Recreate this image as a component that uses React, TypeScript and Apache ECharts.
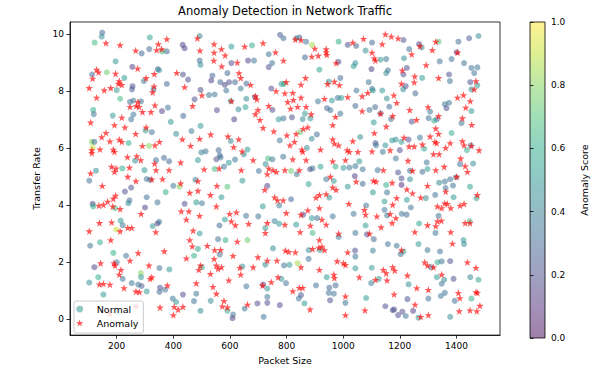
import React, { useEffect, useRef } from "react";
import * as echarts from "echarts";

const chartTitle = "Anomaly Detection in Network Traffic";
const xName = "Packet Size";
const yName = "Transfer Rate";
const cbName = "Anomaly Score";
const xTicks = [200, 400, 600, 800, 1000, 1200, 1400];
const yTicks = [0, 2, 4, 6, 8, 10];
const legendNames = ["Normal", "Anomaly"];
const viridis = ["#440154", "#482475", "#414487", "#355f8d", "#2a788e", "#21918c", "#22a884", "#44bf70", "#7ad151", "#bddf26", "#fde725"];

// [packet size, transfer rate, anomaly score]
const normalPoints: [number, number, number][] = [
  [149,10.05,0.3],[147,9.91,0.45],[122,9.70,0.65],[317,9.88,0.55],[288,9.32,0.3],[315,9.47,0.3],[377,9.39,0.3],[361,9.39,0.65],[196,9.04,0.5],[255,8.85,0.15],[345,8.77,0.3],[350,8.73,0.45],[165,8.66,0.75],[113,8.58,0.3],[227,8.46,0.5],[296,8.35,0.35],[377,8.25,0.3],[254,8.06,0.25],[256,8.17,0.2],[200,8.03,0.5],[330,8.06,0.35],[212,7.73,0.65],[259,7.67,0.35],[247,7.62,0.35],[286,7.64,0.35],[117,7.34,0.6],[119,7.19,0.35],[360,7.30,0.15],[381,7.42,0.35],[186,7.14,0.5],[259,7.18,0.35],[251,7.01,0.35],[391,6.92,0.5],
  [493,9.93,0.45],[433,9.62,0.15],[440,9.50,0.15],[777,9.97,0.25],[789,9.85,0.3],[605,9.56,0.5],[678,9.60,0.6],[737,9.29,0.35],[493,9.07,0.3],[496,8.92,0.45],[605,8.98,0.2],[664,9.07,0.15],[685,9.07,0.35],[749,8.98,0.35],[737,8.84,0.2],[591,8.63,0.3],[434,8.58,0.2],[452,8.40,0.2],[538,8.54,0.3],[534,8.37,0.15],[566,8.31,0.3],[582,8.22,0.15],[597,8.31,0.2],[618,8.31,0.3],[658,8.26,0.3],[782,8.25,0.5],[791,8.25,0.6],[746,8.09,0.2],[496,8.04,0.2],[587,8.02,0.35],[638,8.09,0.35],[526,7.86,0.35],[546,7.88,0.35],[475,7.71,0.2],[603,7.65,0.5],[658,7.73,0.45],[688,7.79,0.3],[554,7.33,0.2],[630,7.36,0.45],[655,7.44,0.55],[750,7.34,0.2],[435,7.13,0.3],[615,7.01,0.15],[772,7.01,0.5],[789,7.04,0.35],[496,6.78,0.5],
  [845,9.88,0.3],[834,9.85,0.45],[869,9.73,0.35],[890,9.62,0.85],[984,9.73,0.6],[1016,9.62,0.2],[1046,9.58,0.3],[1102,9.70,0.3],[1079,9.42,0.45],[865,9.18,0.3],[1132,9.10,0.5],[1152,9.12,0.35],[983,9.02,0.2],[1043,8.98,0.45],[1037,8.87,0.5],[1100,8.77,0.15],[916,8.75,0.55],[1152,8.63,0.45],[1158,8.73,0.35],[949,8.33,0.5],[990,8.46,0.3],[1090,8.31,0.35],[1047,8.02,0.35],[1102,8.08,0.35],[1105,8.02,0.5],[1138,8.02,0.5],[1154,7.74,0.45],[911,7.64,0.35],[960,7.67,0.5],[981,7.76,0.35],[993,7.76,0.5],[1043,7.48,0.3],[943,7.40,0.3],[955,7.33,0.35],[1113,7.44,0.3],[1093,7.34,0.35],[1163,7.45,0.3],[819,7.08,0.2],[865,7.21,0.5],[857,7.02,0.45],[884,7.04,0.5],[990,7.21,0.35],[1132,7.22,0.3],[1169,7.02,0.35],[1108,6.90,0.5],
  [1213,9.79,0.2],[1268,9.65,0.2],[1277,9.53,0.45],[1233,9.47,0.35],[1337,9.73,0.7],[1407,9.73,0.3],[1445,9.85,0.25],[1478,9.93,0.45],[1401,9.36,0.15],[1215,9.15,0.45],[1341,9.04,0.35],[1383,9.12,0.35],[1427,8.98,0.35],[1225,8.81,0.2],[1213,8.58,0.2],[1453,8.81,0.35],[1474,8.83,0.35],[1463,8.63,0.35],[1279,8.46,0.5],[1374,8.58,0.2],[1377,8.35,0.35],[1449,8.31,0.2],[1474,8.20,0.5],[1453,8.06,0.45],[1221,8.17,0.2],[1212,8.06,0.45],[1255,7.92,0.3],[1359,7.54,0.35],[1374,7.59,0.35],[1365,7.40,0.2],[1307,7.28,0.35],[1453,7.30,0.5],[1302,7.05,0.35],[1331,7.01,0.3],[1321,6.96,0.6],[1242,6.93,0.2],[1418,6.88,0.35],
  [112,6.22,0.8],[121,6.22,0.3],[115,6.02,0.9],[242,6.18,0.6],[314,6.08,0.8],[302,6.62,0.5],[324,6.56,0.35],[410,6.50,0.45],[339,5.58,0.35],[367,5.66,0.3],[385,5.54,0.3],[265,5.56,0.45],[220,5.29,0.6],[127,5.21,0.45],[103,4.86,0.35],[298,5.23,0.5],[306,4.92,0.35],[318,4.89,0.35],[400,4.68,0.35],[373,4.46,0.6],[229,4.48,0.2],[251,4.62,0.2],[306,4.28,0.35],[245,4.17,0.3],[241,4.07,0.45],[344,4.10,0.35],[115,4.05,0.15],[117,3.96,0.6],[194,3.90,0.65],[300,3.92,0.15],[214,3.46,0.5],[221,3.30,0.35],[327,3.27,0.5],[344,3.36,0.15],[350,3.42,0.35],[198,3.15,0.9],
  [464,6.60,0.4],[603,6.25,0.45],[776,6.27,0.35],[499,5.85,0.4],[514,5.89,0.35],[560,5.93,0.3],[564,5.75,0.3],[552,5.61,0.2],[567,5.67,0.35],[662,5.95,0.5],[649,5.78,0.45],[487,5.58,0.5],[596,5.49,0.5],[618,5.60,0.35],[579,5.35,0.35],[546,5.27,0.65],[735,5.64,0.65],[726,5.44,0.45],[750,5.61,0.35],[788,5.70,0.35],[702,5.20,0.35],[478,4.89,0.4],[644,4.86,0.5],[732,4.68,0.15],[422,4.65,0.8],[591,4.65,0.7],[570,4.28,0.5],[440,4.05,0.2],[481,4.10,0.5],[501,4.07,0.35],[716,3.96,0.5],[774,3.99,0.4],[657,3.63,0.35],[700,3.61,0.35],[582,3.50,0.5],[563,3.29,0.3],[758,3.44,0.4],[774,3.35,0.5],[725,3.20,0.5],[493,3.01,0.5],
  [848,6.56,0.75],[907,6.48,0.3],[889,6.33,0.45],[1114,6.18,0.2],[1116,6.10,0.35],[1149,6.10,0.5],[1173,6.27,0.5],[1060,6.39,0.45],[872,6.01,0.45],[1140,5.87,0.35],[836,5.09,0.35],[816,5.20,0.75],[883,5.26,0.2],[892,5.29,0.35],[920,5.35,0.55],[973,5.35,0.6],[1001,5.31,0.5],[1022,5.32,0.35],[1043,5.37,0.35],[1069,5.26,0.35],[1122,5.23,0.35],[1041,5.02,0.15],[1057,5.54,0.5],[940,4.91,0.35],[967,4.85,0.5],[878,4.74,0.55],[1016,4.65,0.5],[1069,4.75,0.3],[1105,4.45,0.5],[1152,4.71,0.6],[1155,4.45,0.35],[816,4.21,0.3],[951,4.27,0.5],[1081,3.99,0.35],[1146,4.13,0.5],[1146,3.84,0.35],[859,3.67,0.2],[889,3.55,0.5],[908,3.55,0.35],[963,3.61,0.35],[1037,3.70,0.35],[1155,3.64,0.35],[834,3.32,0.5],[1079,3.29,0.5],[892,3.03,0.65],[1043,3.03,0.35],[1084,2.98,0.2],
  [1186,6.30,0.45],[1206,6.22,0.5],[1231,6.30,0.2],[1271,6.37,0.35],[1286,5.98,0.55],[1200,5.93,0.2],[1383,6.53,0.6],[1186,5.64,0.35],[1437,5.93,0.6],[1451,6.10,0.35],[1295,5.50,0.35],[1298,5.27,0.5],[1236,5.21,0.35],[1280,5.17,0.3],[1194,5.15,0.2],[1206,4.94,0.2],[1206,4.71,0.1],[1236,4.91,0.45],[1413,5.44,0.35],[1459,5.46,0.45],[1339,4.79,0.45],[1359,4.83,0.35],[1378,4.91,0.35],[1399,4.98,0.35],[1388,4.69,0.35],[1362,4.60,0.35],[1448,4.65,0.55],[1325,4.36,0.35],[1292,4.25,0.45],[1390,4.28,0.5],[1225,4.19,0.5],[1239,3.92,0.35],[1471,4.25,0.55],[1207,3.70,0.35],[1224,3.67,0.3],[1337,3.63,0.35],[1268,3.36,0.55],[1326,3.03,0.35],[1447,3.44,0.65],
  [106,2.58,0.35],[141,2.70,0.6],[188,2.33,0.6],[233,2.23,0.35],[200,2.00,0.35],[121,1.83,0.15],[285,1.62,0.8],[286,1.48,0.5],[351,1.80,0.35],[386,1.75,0.5],[135,1.48,0.6],[103,1.29,0.45],[221,1.42,0.35],[253,1.27,0.35],[276,1.22,0.35],[288,1.17,0.25],[306,0.98,0.5],[153,0.87,0.5],[353,1.11,0.2],[371,1.04,0.35],[351,0.96,0.3],[398,0.73,0.35],[410,0.61,0.5],[203,0.24,0.5],
  [558,2.81,0.35],[584,2.78,0.6],[662,2.78,0.75],[487,2.47,0.55],[473,2.23,0.6],[564,2.27,0.35],[501,1.83,0.6],[644,1.85,0.45],[752,2.49,0.45],[725,1.92,0.45],[791,1.89,0.35],[658,1.16,0.35],[717,1.22,0.15],[732,1.08,0.5],[732,0.79,0.35],[782,1.42,0.5],[434,0.87,0.2],[481,0.90,0.35],[473,0.64,0.35],[532,0.65,0.45],[496,0.30,0.45],[591,0.30,0.6],[611,0.17,0.35],[609,0.04,0.15],[652,0.38,0.35],[697,0.56,0.2],[732,0.58,0.2],[776,0.50,0.2],[719,0.09,0.35],
  [984,2.89,0.35],[1108,2.81,0.3],[878,2.43,0.45],[878,2.12,0.35],[918,2.43,0.5],[1042,2.41,0.2],[1043,2.20,0.35],[1105,2.41,0.4],[1158,2.64,0.35],[810,1.91,0.5],[839,1.97,0.85],[1043,1.79,0.5],[1101,1.81,0.5],[942,1.48,0.5],[798,1.27,0.35],[904,1.19,0.35],[951,1.11,0.3],[973,1.19,0.3],[949,0.93,0.35],[967,0.90,0.35],[851,0.85,0.2],[843,0.73,0.35],[863,0.56,0.5],[954,0.67,0.2],[1008,0.58,0.35],[1099,1.27,0.4],[1126,1.42,0.5],[1081,0.75,0.5],[1149,0.46,0.2],[1175,0.32,0.2],
  [1189,2.58,0.35],[1213,2.38,0.55],[1203,2.29,0.35],[1266,2.64,0.5],[1298,2.43,0.35],[1342,2.38,0.35],[1425,2.78,0.5],[1427,2.64,0.45],[1333,2.00,0.6],[1348,2.03,0.35],[1378,2.04,0.2],[1310,1.83,0.35],[1331,1.48,0.5],[1357,1.39,0.45],[1348,1.25,0.35],[1390,1.42,0.2],[1449,1.48,0.45],[1478,1.39,0.55],[1231,1.23,0.45],[1359,0.93,0.35],[1345,0.82,0.35],[1301,0.73,0.35],[1394,0.65,0.35],[1227,0.71,0.2],[1453,0.73,0.6],[1180,0.35,0.2],[1209,0.27,0.2],[1194,0.15,0.2],[1221,0.12,0.35],[1247,0.30,0.15],[1266,0.06,0.5],[1378,0.09,0.45]
];

// [packet size, transfer rate]
const anomalyPoints: [number, number][] = [
  [162,9.68],[212,9.61],[267,9.42],[347,9.65],[377,9.82],[341,9.44],[359,9.47],[129,8.75],[115,8.44],[136,8.66],[196,8.61],[209,8.35],[206,8.26],[218,8.22],[274,8.79],[333,8.60],[412,8.64],[103,8.11],[156,8.03],[179,8.11],[129,7.77],[304,8.46],[332,8.17],[327,7.96],[275,7.62],[269,7.48],[247,7.45],[279,7.45],[335,7.50],[321,7.27],[218,7.07],[291,7.27],[108,6.90],[192,6.81],[304,6.73],[229,6.73],
  [485,9.85],[544,9.65],[494,9.42],[544,9.35],[570,9.47],[652,9.56],[717,9.68],[761,9.36],[583,9.25],[543,9.07],[626,9.00],[789,9.07],[571,8.87],[632,8.63],[638,8.46],[673,8.22],[440,8.14],[501,7.85],[468,7.48],[605,7.65],[690,7.82],[695,7.71],[763,8.00],[794,7.92],[799,8.32],[737,7.48],[699,7.34],[690,7.19],[706,6.99],[717,6.71],
  [831,9.81],[851,9.79],[900,9.49],[940,9.47],[940,9.36],[942,9.27],[889,9.21],[912,9.24],[975,8.98],[1034,9.70],[1072,9.83],[1138,9.65],[1149,9.99],[1170,9.91],[1102,9.35],[1110,9.15],[1114,9.07],[867,8.46],[851,8.23],[945,8.25],[969,8.33],[987,8.21],[822,7.94],[804,7.62],[824,7.69],[851,7.77],[814,7.39],[839,7.45],[869,7.45],[934,7.73],[1016,7.79],[1067,7.82],[1087,7.94],[1179,7.85],[887,7.19],[973,7.10],[963,6.81],[875,6.73],[1067,7.30],[1132,7.21],[1152,6.76],[1175,7.13],
  [1194,9.85],[1271,9.58],[1242,9.29],[1315,9.44],[1327,9.73],[1404,9.35],[1293,8.91],[1209,8.73],[1253,8.52],[1251,8.31],[1337,8.46],[1206,8.26],[1469,8.35],[1463,8.06],[1189,7.59],[1404,7.77],[1425,7.86],[1449,7.65],[1433,7.42],[1300,7.44],[1235,7.34],[1337,7.13],[1259,6.99],[1421,7.05],[1454,6.82],[1327,6.69],
  [162,6.54],[267,6.50],[147,6.39],[176,6.24],[209,6.30],[218,6.22],[141,5.96],[188,5.95],[192,5.87],[112,5.93],[112,5.83],[291,6.08],[351,6.22],[335,6.10],[238,5.69],[271,5.72],[285,5.58],[182,5.35],[198,5.29],[192,5.17],[245,5.32],[108,5.12],[334,5.46],[339,5.23],[385,5.23],[239,5.00],[268,4.85],[324,4.91],[362,4.92],[149,4.68],[196,4.34],[188,4.23],[168,4.13],[153,4.02],[137,3.99],[186,3.96],[212,3.87],[286,3.70],[139,3.38],[182,3.40],[239,3.21],[253,3.21],[212,3.09],[338,3.06],[103,3.09],
  [432,6.31],[461,6.08],[493,6.33],[532,6.48],[593,6.41],[631,6.31],[613,6.04],[643,5.89],[755,6.59],[801,6.45],[426,5.50],[509,5.26],[562,5.29],[640,5.23],[682,5.58],[737,5.29],[752,5.23],[764,5.17],[794,5.23],[732,5.09],[487,4.85],[426,4.77],[458,4.44],[487,4.51],[554,4.68],[531,4.36],[723,4.54],[758,4.28],[768,4.17],[788,4.17],[799,3.73],[428,3.79],[455,3.79],[493,3.63],[446,3.50],[552,3.96],[599,3.70],[623,3.75],[605,3.44],[619,3.30],[666,3.35],[732,3.38],[794,3.32],[470,3.11],[725,3.03],
  [834,6.50],[828,6.22],[812,6.10],[859,6.68],[854,5.95],[857,5.87],[920,5.95],[963,6.31],[969,6.16],[984,6.10],[1014,5.93],[1022,5.87],[1034,6.25],[1110,6.53],[1166,5.93],[822,5.61],[869,5.58],[963,5.54],[1008,5.58],[1052,5.87],[1102,5.89],[845,5.23],[955,5.00],[963,4.63],[975,4.54],[1107,4.86],[1116,4.83],[1173,4.79],[1142,5.23],[1046,4.83],[916,4.36],[904,4.27],[940,4.39],[1020,4.05],[1075,3.84],[1079,3.67],[1119,3.61],[1175,4.02],[1166,3.70],[875,3.82],[851,3.67],[916,3.90],[925,3.50],[940,3.32],[884,3.29],[848,3.06],[984,3.01],[1134,3.23],[1173,3.38],[1093,3.01],
  [1215,6.37],[1233,6.06],[1251,6.06],[1280,6.13],[1307,6.41],[1337,6.50],[1324,6.22],[1330,6.18],[1362,6.01],[1378,6.18],[1421,6.25],[1427,6.10],[1453,6.08],[1480,5.93],[1319,5.79],[1339,5.79],[1229,5.56],[1327,5.23],[1357,5.35],[1245,5.21],[1415,5.64],[1431,5.37],[1439,5.17],[1401,5.00],[1298,4.68],[1225,4.56],[1245,4.42],[1274,4.27],[1189,4.25],[1362,4.48],[1359,4.07],[1368,4.05],[1348,3.90],[1380,3.90],[1413,3.99],[1427,4.05],[1474,4.36],[1333,3.96],[1186,3.55],[1298,3.30],[1333,3.44],[1347,3.46],[1327,3.27],[1380,3.06],[1253,3.06],[1431,3.38],[1448,3.38],
  [179,2.78],[143,1.97],[190,1.97],[194,1.89],[215,1.74],[247,2.06],[276,2.33],[368,2.39],[314,1.89],[209,1.57],[318,1.42],[324,1.48],[153,1.25],[139,1.23],[176,1.22],[226,1.10],[268,0.98],[280,0.96],[379,1.19],[353,0.42],[403,0.44],[400,0.15],[268,0.46],[176,0.21],
  [458,2.78],[467,2.56],[446,2.14],[520,2.58],[546,2.43],[567,2.44],[544,2.12],[552,1.89],[611,2.23],[626,2.73],[496,1.89],[490,1.74],[531,1.60],[570,1.83],[558,1.77],[596,1.37],[635,1.81],[638,1.57],[682,1.83],[699,2.18],[732,2.06],[766,2.06],[796,2.41],[770,1.48],[746,1.31],[715,1.19],[481,1.27],[540,1.14],[552,0.90],[579,0.65],[573,0.46],[591,0.42],[662,0.52],[434,0.44],[417,0.35],
  [916,2.78],[925,2.55],[914,2.52],[892,2.47],[934,2.43],[1016,2.35],[979,2.04],[1001,1.97],[1008,1.91],[916,1.74],[851,1.83],[808,2.37],[831,2.35],[967,1.57],[969,1.45],[1057,1.48],[1114,1.39],[1142,1.74],[1152,1.62],[1175,1.83],[1155,1.37],[845,1.11],[857,1.11],[822,0.99],[1008,0.81],[883,0.35],[1008,0.15],[1077,0.32],
  [1206,2.43],[1386,2.66],[1288,2.00],[1298,1.89],[1319,1.83],[1348,1.57],[1439,2.00],[1469,1.81],[1227,1.54],[1182,1.71],[1260,1.10],[1301,1.04],[1407,0.93],[1412,0.75],[1469,0.96],[1474,0.93],[1483,0.48],[1180,0.88],[1254,0.52],[1274,0.09],[1301,0.15],[1410,0.29],[1448,0.32],[1472,0.29]
];

const FONT = "DejaVu Sans";
const STAR = "path://M50,0L61.8,35.1L98.1,35.1L68.8,56.7L79.4,90.5L50,69.1L20.6,90.5L31.2,56.7L1.9,35.1L38.2,35.1Z";

export default function App() {
  const ref = useRef<HTMLDivElement>(null);
  useEffect(() => {
    if (!ref.current) return;
    const chart = echarts.init(ref.current, null, { renderer: "svg" });
    const axisCommon = {
      axisLine: { show: true, onZero: false, lineStyle: { color: "#000", width: 0.8 } },
      splitLine: { show: false },
      nameTextStyle: { fontSize: 9.5, color: "#000", fontFamily: FONT },
    };
    chart.setOption({
      animation: false,
      textStyle: { fontFamily: FONT },
      grid: [
        { left: 70, top: 22, width: 430, height: 316, show: true, borderColor: "#000", borderWidth: 0.8, backgroundColor: "transparent" },
        { left: 530, top: 22, width: 15, height: 316 },
      ],
      xAxis: [
        {
          ...axisCommon,
          type: "value",
          gridIndex: 0,
          min: 35,
          max: 1554,
          name: xName,
          nameLocation: "middle",
          nameGap: 19,
          axisTick: { show: true, length: 3.5, customValues: xTicks, lineStyle: { color: "#000", width: 0.8 } },
          axisLabel: { customValues: xTicks, fontSize: 9, color: "#000", margin: 6, fontFamily: FONT, formatter: (v: number) => String(v) },
        },
        { type: "value", gridIndex: 1, min: 0, max: 1, show: false },
      ],
      yAxis: [
        {
          ...axisCommon,
          type: "value",
          gridIndex: 0,
          min: -0.55,
          max: 10.42,
          name: yName,
          nameLocation: "middle",
          nameGap: 22,
          axisTick: { show: true, length: 3.5, customValues: yTicks, lineStyle: { color: "#000", width: 0.8 } },
          axisLabel: { customValues: yTicks, fontSize: 9, color: "#000", margin: 6, fontFamily: FONT, formatter: (v: number) => String(v) },
        },
        {
          type: "value",
          gridIndex: 1,
          position: "right",
          min: 0,
          max: 1,
          interval: 0.2,
          name: cbName,
          nameLocation: "middle",
          nameGap: 34,
          nameRotate: 90,
          nameTextStyle: { fontSize: 9.5, color: "#000", fontFamily: FONT },
          axisLine: { show: false },
          splitLine: { show: false },
          axisTick: { show: true, length: 3.5, lineStyle: { color: "#000", width: 0.8 } },
          axisLabel: { fontSize: 9, color: "#000", margin: 6, fontFamily: FONT, formatter: (v: number) => v.toFixed(1) },
        },
      ],
      visualMap: {
        type: "continuous",
        show: false,
        min: 0,
        max: 1,
        dimension: 2,
        seriesIndex: 0,
        inRange: { color: viridis },
      },
      legend: {
        data: legendNames,
        orient: "vertical",
        left: 74,
        top: 301,
        itemWidth: 24,
        itemHeight: 7,
        itemGap: 4,
        padding: [3, 5, 5, 2],
        backgroundColor: "rgba(255,255,255,0.8)",
        borderColor: "#cccccc",
        borderWidth: 1,
        borderRadius: 2,
        textStyle: { fontSize: 9.5, color: "#000", fontFamily: FONT },
      },
      series: [
        {
          name: legendNames[0],
          type: "scatter",
          xAxisIndex: 0,
          yAxisIndex: 0,
          symbol: "circle",
          symbolSize: 6,
          itemStyle: { color: "#21918c", opacity: 0.5 },
          data: normalPoints,
        },
        {
          name: legendNames[1],
          type: "scatter",
          xAxisIndex: 0,
          yAxisIndex: 0,
          symbol: STAR,
          symbolSize: 7.5,
          itemStyle: { color: "#ff0000", opacity: 0.65 },
          data: anomalyPoints,
        },
        { type: "scatter", xAxisIndex: 1, yAxisIndex: 1, data: [] },
      ],
      graphic: [
        {
          type: "rect",
          silent: true,
          shape: { x: 530, y: 22, width: 15, height: 316 },
          style: {
            fill: new echarts.graphic.LinearGradient(0, 1, 0, 0, viridis.map((c, i) => ({ offset: i / (viridis.length - 1), color: c }))),
            opacity: 0.5,
          },
        },
        {
          type: "rect",
          silent: true,
          shape: { x: 530, y: 22, width: 15, height: 316 },
          style: { fill: "none", stroke: "#000", lineWidth: 0.8 },
        },
        {
          type: "text",
          silent: true,
          x: 285,
          y: 11,
          style: {
            text: chartTitle,
            fontSize: 11.5,
            fontFamily: FONT,
            fill: "#000",
            align: "center",
            verticalAlign: "middle",
            textAlign: "center",
            textVerticalAlign: "middle",
          },
        },
      ],
    });
    return () => chart.dispose();
  }, []);
  return <div ref={ref} style={{ position: "absolute", left: 0, top: 0, width: 600, height: 370 }} />;
}
